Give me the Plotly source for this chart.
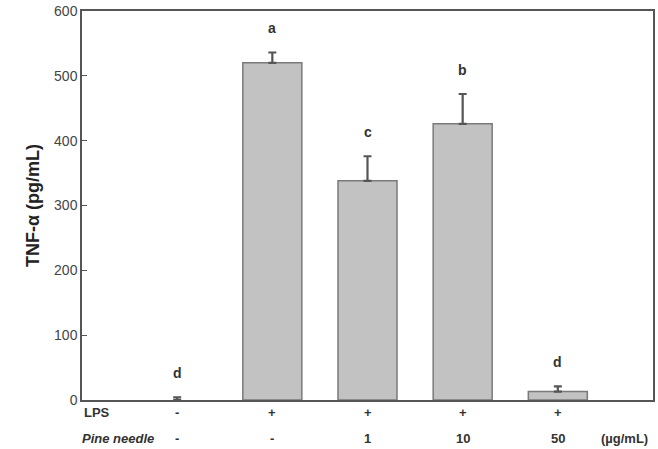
import plotly.graph_objects as go

# Data
groups = [0, 1, 2, 3, 4]
tnf_mean = [0, 520, 338, 426, 13]
tnf_err = [4, 16, 38, 46, 8]
letters = ["d", "a", "c", "b", "d"]
lps_row = ["-", "+", "+", "+", "+"]
pine_row = ["-", "-", "1", "10", "50"]
y_ticks = [0, 100, 200, 300, 400, 500, 600]

axis_col = "#555555"
text_col = "#333333"
font_fam = "Liberation Sans, Arial"

fig = go.Figure()
fig.add_trace(go.Bar(
    x=groups, y=tnf_mean, width=0.62,
    marker=dict(color="#c2c2c2",
                line=dict(color="#7a7a7a", width=[0 if m == 0 else 1.5 for m in tnf_mean])),
    error_y=dict(type="data", symmetric=False, array=tnf_err,
                 arrayminus=[0] * len(tnf_err), visible=True, color="#555555",
                 thickness=2.2, width=4),
    showlegend=False,
))

annots = []
for g, m, e, L in zip(groups, tnf_mean, tnf_err, letters):
    annots.append(dict(x=g, y=m + e, xref="x", yref="y", text=L, showarrow=False,
                       yshift=24, font=dict(family=font_fam, size=14,
                                            color=text_col, weight="bold")))
for g, s in zip(groups, lps_row):
    annots.append(dict(x=g, y=-0.033, xref="x", yref="paper", text=s, showarrow=False,
                       yanchor="middle",
                       font=dict(family=font_fam, size=13, color=text_col, weight="bold")))
for g, s in zip(groups, pine_row):
    annots.append(dict(x=g, y=-0.098, xref="x", yref="paper", text=s, showarrow=False,
                       yanchor="middle",
                       font=dict(family=font_fam, size=13, color=text_col, weight="bold")))
annots.append(dict(x=-1, y=-0.033, xref="x", yref="paper", text="LPS", showarrow=False,
                   xanchor="left", yanchor="middle",
                   font=dict(family=font_fam, size=13, color=text_col, weight="bold")))
annots.append(dict(x=-1, y=-0.098, xref="x", yref="paper", text="<i>Pine needle</i>",
                   showarrow=False, xanchor="left", yanchor="middle", xshift=-2,
                   font=dict(family=font_fam, size=13, color=text_col, weight="bold")))
annots.append(dict(x=4.7, y=-0.098, xref="x", yref="paper", text="(µg/mL)",
                   showarrow=False, yanchor="middle",
                   font=dict(family=font_fam, size=13, color=text_col, weight="bold")))

fig.update_layout(
    width=658, height=449,
    margin=dict(l=82, r=3, t=10, b=49),
    plot_bgcolor="white", paper_bgcolor="white",
    annotations=annots,
    xaxis=dict(range=[-1, 5], showticklabels=False, ticks="", showgrid=False,
               zeroline=False, showline=True, linecolor=axis_col, linewidth=1.5,
               mirror=True),
    yaxis=dict(range=[0, 600], tickvals=y_ticks, ticks="inside", ticklen=5,
               tickcolor=axis_col, showgrid=False, zeroline=False, showline=True,
               linecolor=axis_col, linewidth=1.5, mirror=True,
               tickfont=dict(family=font_fam, size=14, color="#444444"),
               title=dict(text="TNF-α (pg/mL)", standoff=10,
                          font=dict(family=font_fam, size=18,
                                    color="#222222", weight="bold"))),
)

fig.write_html("out.html")
